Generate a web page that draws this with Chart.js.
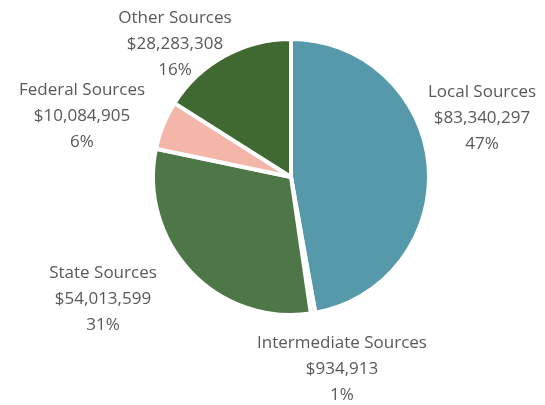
<!DOCTYPE html>
<html>
<head>
<meta charset="utf-8">
<script src="https://cdn.jsdelivr.net/npm/chart.js@4"></script>
<style>
html,body{margin:0;padding:0;background:#fff;}
#wrap{width:545px;height:405px;position:relative;}
</style>
</head>
<body>
<div id="wrap"><canvas id="c" width="545" height="405"></canvas></div>
<script>
const categories = ["Local Sources", "Intermediate Sources", "State Sources", "Federal Sources", "Other Sources"];
const amounts = [83340297, 934913, 54013599, 10084905, 28283308];
const percentLabels = ["47%", "1%", "31%", "6%", "16%"];
const colors = ["#5599AA", "#F4B6A8", "#4E7748", "#F4B6A8", "#3F6931"];

// label block centre offsets relative to pie centre (layout only)
const labelOffsets = [[191,-59],[51,192],[-188,122],[-209,-61],[-116,-133]];

const fmt = v => "$" + v.toLocaleString("en-US");

const labelPlugin = {
  id: "outerLabels",
  afterDraw(chart) {
    const ctx = chart.ctx;
    const meta = chart.getDatasetMeta(0);
    const arc0 = meta.data[0];
    const cx = arc0.x, cy = arc0.y;
    ctx.save();
    ctx.font = "17px 'Open Sans'";
    ctx.fillStyle = "#595959";
    ctx.textAlign = "center";
    ctx.textBaseline = "middle";
    const lh = 25.8;
    categories.forEach((cat, i) => {
      const [dx, dy] = labelOffsets[i];
      const x = cx + dx, y = cy + dy;
      ctx.fillText(cat, x, y - lh);
      ctx.fillText(fmt(amounts[i]), x, y);
      ctx.fillText(percentLabels[i], x, y + lh);
    });
    ctx.restore();
  }
};

new Chart(document.getElementById("c"), {
  type: "pie",
  data: {
    labels: categories,
    datasets: [{
      data: amounts,
      backgroundColor: colors,
      borderColor: "#FFFFFF",
      borderWidth: 4,
      radius: 138
    }]
  },
  options: {
    responsive: false,
    animation: false,
    layout: { padding: { top: 39, bottom: 90, left: 37, right: 0 } },
    plugins: {
      legend: { display: false },
      tooltip: { enabled: false }
    }
  },
  plugins: [labelPlugin]
});
</script>
</body>
</html>
